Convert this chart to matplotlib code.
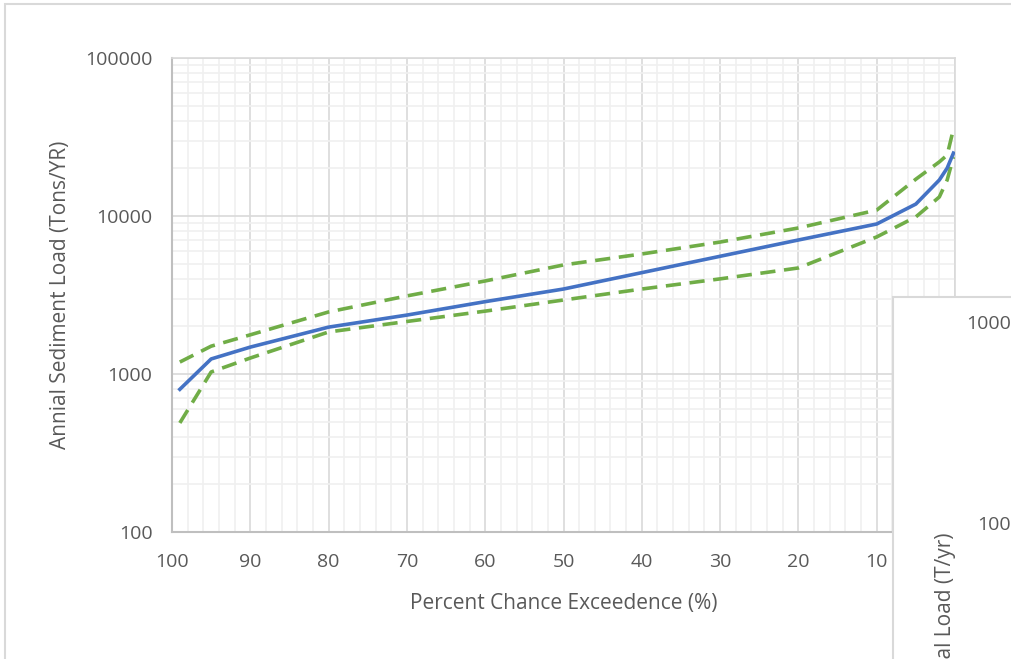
import numpy as np
import matplotlib
matplotlib.use("Agg")
import matplotlib.pyplot as plt
from matplotlib.patches import Rectangle
from matplotlib.ticker import MultipleLocator, LogLocator, FixedLocator, NullFormatter

plt.rcParams['font.family'] = ['Open Sans', 'DejaVu Sans']

# Datos
pct = [99, 95, 90, 80, 70, 60, 50, 40, 30, 20, 10, 5, 2, 1, 0.2]
carga_media = [800, 1245, 1480, 1980, 2360, 2870, 3450, 4380, 5560, 7050, 8900, 11900, 16900, 20100, 25000]
carga_sup = [1190, 1500, 1770, 2470, 3120, 3880, 4900, 5750, 6840, 8400, 10900, 17100, 22000, 24300, 35500]
carga_inf = [490, 1030, 1262, 1845, 2150, 2500, 2940, 3450, 4000, 4690, 7370, 9870, 13200, 16900, 23600]

x_ticks = [100, 90, 80, 70, 60, 50, 40, 30, 20, 10, 0]
# la etiqueta "0" queda tapada por el otro gráfico
x_labels = ['100', '90', '80', '70', '60', '50', '40', '30', '20', '10', '']
y_ticks = [100, 1000, 10000, 100000]

gris_texto = '#595959'

fig = plt.figure(figsize=(10.12, 6.59), dpi=100)
ax = fig.add_axes([172/1012, 1 - 532/659, (955 - 172)/1012, (532 - 58)/659])

ax.plot(pct, carga_sup, color='#70AD47', lw=2.6, dashes=(4.2, 2.4), zorder=3)
ax.plot(pct, carga_inf, color='#70AD47', lw=2.6, dashes=(4.2, 2.4), zorder=3)
ax.plot(pct, carga_media, color='#4472C4', lw=2.6, zorder=4)

ax.set_yscale('log')
ax.set_ylim(100, 100000)
ax.set_xlim(100, 0)

ax.xaxis.set_major_locator(FixedLocator(x_ticks))
ax.set_xticklabels(x_labels)
ax.xaxis.set_minor_locator(MultipleLocator(2))
ax.yaxis.set_major_locator(FixedLocator(y_ticks))
ax.yaxis.set_minor_locator(LogLocator(base=10, subs=np.arange(2, 10)))
ax.yaxis.set_minor_formatter(NullFormatter())
ax.set_yticklabels([str(v) for v in y_ticks])

ax.grid(which='major', color='#d9d9d9', lw=1.2, zorder=0)
ax.grid(which='minor', color='#f0f0f0', lw=1.2, zorder=0)
ax.set_axisbelow(True)

for lado in ['top', 'right']:
    ax.spines[lado].set_color('#d9d9d9')
    ax.spines[lado].set_linewidth(1.2)
for lado in ['left', 'bottom']:
    ax.spines[lado].set_color('#bfbfbf')
    ax.spines[lado].set_linewidth(1.5)

ax.tick_params(which='both', length=0, colors=gris_texto, labelsize=14)
ax.tick_params(axis='x', pad=15)
ax.tick_params(axis='y', pad=14)

ax.set_xlabel('Percent Chance Exceedence (%)', fontsize=15, color=gris_texto, labelpad=16)
ax.set_ylabel('Annial Sediment Load (Tons/YR)', fontsize=15, color=gris_texto, labelpad=10)

# Borde del área del gráfico
fig.patches.append(Rectangle((5/1012, -0.1), 1.1, 1 - 4/659 + 0.1, transform=fig.transFigure,
                             fill=False, edgecolor='#d9d9d9', lw=1.5, zorder=0))

# Otro gráfico superpuesto (recortado) en la esquina inferior derecha
fig.patches.append(Rectangle((893/1012, -0.1), 0.2, 1 - 297/659 + 0.1, transform=fig.transFigure,
                             facecolor='white', edgecolor='#d9d9d9', lw=1.5, zorder=10))
fig.text(966/1012, 1 - 324/659, '10000', fontsize=14, color=gris_texto, va='center', ha='left', zorder=11)
fig.text(977/1012, 1 - 525/659, '1000', fontsize=14, color=gris_texto, va='center', ha='left', zorder=11)
fig.text(945/1012, 1 - 533/659, 'Annual Load (T/yr)', fontsize=15, color=gris_texto, rotation=90,
         ha='center', va='top', zorder=11)

fig.savefig('out.png', dpi=100)
